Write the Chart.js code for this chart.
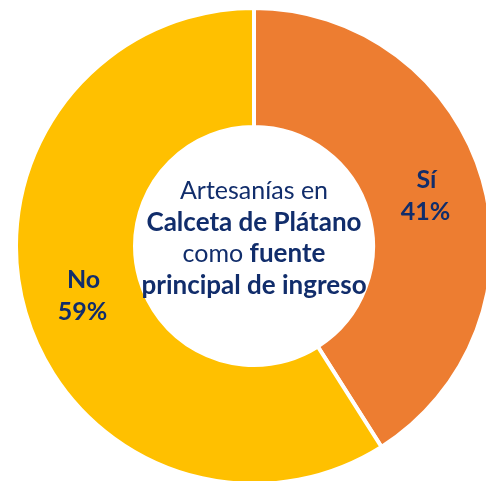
<!DOCTYPE html>
<html>
<head>
<meta charset="utf-8">
<script src="https://cdn.jsdelivr.net/npm/chart.js@4/dist/chart.umd.min.js"></script>
<style>
  html, body { margin: 0; padding: 0; background: #fff; overflow: hidden; width: 486px; height: 481px; }
  #wrap { position: absolute; left: 14px; top: 6px; width: 480px; height: 480px; }
</style>
</head>
<body>
<div id="wrap"><canvas id="grafico"></canvas></div>
<script>
// datos
var categorias = ['Sí', 'No'];
var valores = [41, 59];
var colores = ['#ED7D31', '#FFC000'];
var textoColor = '#112D6B';
var fuente = 'Lato';

// lineas del texto central: [texto, negrita]
var lineasCentro = [
    [['Artesanías en', false]],
    [['Calceta de Plátano', true]],
    [['como ', false], ['fuente', true]],
    [['principal de ingreso', true]]
];

var etiquetas = {
    id: 'etiquetas',
    afterDatasetsDraw: function (chart) {
        var ctx = chart.ctx;
        var meta = chart.getDatasetMeta(0);
        ctx.save();
        ctx.fillStyle = textoColor;
        ctx.textAlign = 'center';
        ctx.textBaseline = 'middle';
        ctx.font = 'bold 25px ' + fuente;
        meta.data.forEach(function (arco, i) {
            var p = arco.tooltipPosition();
            ctx.fillText(categorias[i], p.x + 1, p.y - 16);
            ctx.fillText(valores[i] + '%', p.x, p.y + 16);
        });

        // texto central
        var cx = (chart.chartArea.left + chart.chartArea.right) / 2;
        var cy = (chart.chartArea.top + chart.chartArea.bottom) / 2 - 8;
        var alto = 31.7;
        var y0 = cy - alto * (lineasCentro.length - 1) / 2;
        ctx.textAlign = 'left';
        lineasCentro.forEach(function (linea, j) {
            var ancho = 0;
            linea.forEach(function (t) {
                ctx.font = (t[1] ? 'bold 26px ' : '25px ') + fuente;
                ancho += ctx.measureText(t[0]).width;
            });
            var x = cx - ancho / 2;
            linea.forEach(function (t) {
                ctx.font = (t[1] ? 'bold 26px ' : '25px ') + fuente;
                ctx.fillText(t[0], x, y0 + j * alto);
                x += ctx.measureText(t[0]).width;
            });
        });
        ctx.restore();
    }
};

var ctx = document.getElementById('grafico').getContext('2d');
var myChart = new Chart(ctx, {
    type: 'doughnut',
    data: {
        labels: categorias,
        datasets: [{
            data: valores,
            backgroundColor: colores,
            borderColor: '#ffffff',
            borderWidth: 4
        }]
    },
    options: {
        responsive: true,
        maintainAspectRatio: false,
        animation: false,
        cutout: '50%',
        layout: { padding: 0 },
        plugins: {
            legend: { display: false },
            tooltip: { enabled: false }
        }
    },
    plugins: [etiquetas]
});
</script>
</body>
</html>
